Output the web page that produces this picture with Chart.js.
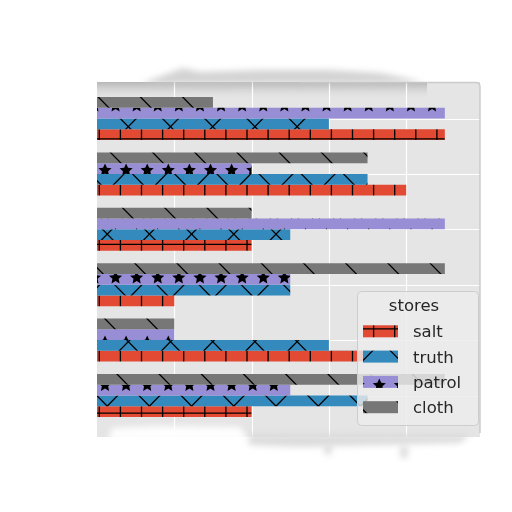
<!DOCTYPE html>
<html><head><meta charset="utf-8">
<script src="https://cdn.jsdelivr.net/npm/chart.js@4"></script>
<style>html,body{margin:0;padding:0;background:#fff}canvas{display:block}</style>
</head><body>
<canvas id="c" width="512" height="512"></canvas>
<script>
// ---- data (categories listed top to bottom) ----
const categories = ['1', '2', '3', '4', '5', '6'];
const salt   = [4.5, 4.0, 2.0, 1.0, 3.5, 2.0];
const truth  = [3.0, 3.5, 2.5, 2.5, 3.0, 3.5];
const patrol = [4.5, 2.0, 4.5, 2.5, 1.0, 2.5];
const cloth  = [1.5, 3.5, 2.0, 4.5, 1.0, 4.5];
const seriesNames = ['salt', 'truth', 'patrol', 'cloth'];
const xTicks = [1, 2, 3, 4];
const legendTitle = 'stores';

// ---- hatch patterns ----
const canvas = document.getElementById('c');
const ctx0 = canvas.getContext('2d');
const U = 21.1;       // horizontal hatch unit
const V = 21.5;       // vertical hatch unit
function makePattern(color, w, h, drawHatch) {
  const c = document.createElement('canvas');
  c.width = w; c.height = h;
  const g = c.getContext('2d');
  g.fillStyle = color; g.fillRect(0, 0, w, h);
  g.strokeStyle = '#000'; g.fillStyle = '#000'; g.lineWidth = 1.3;
  drawHatch(g, w, h);
  return ctx0.createPattern(c, 'repeat');
}
function diag(g, w, h, c, dir) {
  const P = 2 * U;
  g.beginPath();
  for (let k = -25; k < 35; k++) {
    const x0 = c + k * P;
    g.moveTo(x0, 0);
    g.lineTo(x0 + dir * w, h);
  }
  g.stroke();
}
function star(g, cx, cy, ro, ri) {
  g.beginPath();
  for (let i = 0; i < 10; i++) {
    const r = i % 2 ? ri : ro;
    const a = -Math.PI / 2 + i * Math.PI / 5;
    const x = cx + r * Math.cos(a), y = cy + r * Math.sin(a);
    i ? g.lineTo(x, y) : g.moveTo(x, y);
  }
  g.closePath(); g.fill();
}
const patterns = {
  salt: makePattern('#E24A33', 211, 211, (g, w, h) => {
    g.beginPath();
    for (let k = -1; k <= 10; k++) {
      const x = 14.9 + k * U; g.moveTo(x, 0); g.lineTo(x, h);
      const y = 12.3 + k * U; g.moveTo(0, y); g.lineTo(w, y);
    }
    g.stroke();
  }),
  truth: makePattern('#348ABD', 422, 430, (g, w, h) => {
    diag(g, w, h, 4.0, 1); diag(g, w, h, -0.6, -1);
  }),
  patrol: makePattern('#988ED5', 211, 215, (g, w, h) => {
    for (let r = -1; r <= 11; r++) {
      const y = -1.7 + r * V;
      const off = (r % 2 === 0) ? -0.5 : -0.5 + U / 2;
      for (let k = -1; k <= 11; k++) star(g, off + k * U, y, 6.9, 3.3);
    }
  }),
  cloth: makePattern('#777777', 422, 430, (g, w, h) => {
    diag(g, w, h, 3.1, 1);
  })
};

// ---- plugin: background, grid, smears, legend ----
const decor = {
  id: 'decor',
  beforeDatasetsDraw(chart) {
    const { ctx, chartArea: a, scales: { x, y } } = chart;
    const top = 82, bottom = 437;
    ctx.save();
    ctx.fillStyle = '#E5E5E5';
    ctx.fillRect(a.left, top, a.right - a.left, bottom - top);
    // top smear inside plot
    let gr = ctx.createLinearGradient(0, top, 0, top + 16);
    gr.addColorStop(0, 'rgba(180,180,180,0.95)');
    gr.addColorStop(1, 'rgba(215,215,215,0.0)');
    ctx.fillStyle = gr;
    ctx.fillRect(a.left, top, 330, 16);
    ctx.strokeStyle = '#ffffff';
    ctx.lineWidth = 1.2;
    ctx.beginPath();
    xTicks.forEach(t => { const px = Math.round(x.getPixelForValue(t)) + 0.5; ctx.moveTo(px, top); ctx.lineTo(px, bottom); });
    categories.forEach((c, i) => { const py = Math.round(y.getPixelForValue(i)) + 0.5; ctx.moveTo(a.left, py); ctx.lineTo(a.right, py); });
    ctx.stroke();
    // frame edge
    ctx.strokeStyle = 'rgba(200,200,200,0.9)';
    ctx.lineWidth = 1.5;
    ctx.beginPath();
    ctx.moveTo(300, top + 0.5); ctx.lineTo(a.right - 4, top + 0.5);
    ctx.quadraticCurveTo(a.right, top + 0.5, a.right, top + 5);
    ctx.lineTo(a.right, bottom - 4);
    ctx.stroke();
    // smear above plot
    ctx.filter = 'blur(3px)';
    ctx.fillStyle = 'rgba(200,200,200,0.8)';
    ctx.beginPath();
    ctx.moveTo(140, top + 2); ctx.lineTo(183, 68); ctx.lineTo(200, 72); ctx.lineTo(260, 70);
    ctx.lineTo(330, 70); ctx.lineTo(380, 73); ctx.lineTo(405, 78); ctx.lineTo(425, top + 1);
    ctx.closePath(); ctx.fill();
    // smear below plot
    ctx.fillStyle = 'rgba(215,215,215,0.9)';
    ctx.beginPath();
    ctx.moveTo(245, bottom - 2); ctx.lineTo(470, bottom - 2); ctx.lineTo(460, bottom + 6);
    ctx.lineTo(300, bottom + 10); ctx.lineTo(250, bottom + 8); ctx.closePath(); ctx.fill();
    ctx.beginPath(); ctx.ellipse(328, 450, 4, 5, 0, 0, Math.PI * 2); ctx.fill();
    ctx.beginPath(); ctx.ellipse(404, 452, 4, 7, 0, 0, Math.PI * 2); ctx.fill();
    // ragged white at bottom-left
    ctx.fillStyle = 'rgba(255,255,255,0.95)';
    ctx.beginPath();
    ctx.moveTo(108, bottom + 4); ctx.lineTo(112, 428); ctx.lineTo(160, 426); ctx.lineTo(240, 427);
    ctx.lineTo(250, bottom + 4); ctx.closePath(); ctx.fill();
    ctx.restore();
  },
  afterDraw(chart) {
    const ctx = chart.ctx;
    ctx.save();
    const bx = 357, by = 291, bw = 121, bh = 134;
    ctx.beginPath();
    ctx.roundRect(bx + 0.5, by + 0.5, bw, bh, 4);
    ctx.fillStyle = 'rgba(236,236,236,0.82)';
    ctx.fill();
    ctx.strokeStyle = 'rgba(205,205,205,1)';
    ctx.lineWidth = 1;
    ctx.stroke();
    ctx.font = '16.5px "DejaVu Sans"';
    ctx.fillStyle = '#262626';
    ctx.textBaseline = 'alphabetic';
    ctx.textAlign = 'center';
    ctx.fillText(legendTitle, 414, 311);
    ctx.textAlign = 'left';
    seriesNames.forEach((n, i) => {
      const base = 337.3 + i * 25.3;
      ctx.fillStyle = patterns[n];
      ctx.fillRect(363, base - 12, 35, 12);
      ctx.fillStyle = '#262626';
      ctx.fillText(n, 413, base);
    });
    ctx.restore();
  }
};

const seriesData = { salt, truth, patrol, cloth };
// drawing order inside a group: cloth on top, salt at the bottom
const drawOrder = ['cloth', 'patrol', 'truth', 'salt'];

new Chart(canvas, {
  type: 'bar',
  data: {
    labels: categories,
    datasets: drawOrder.map(n => ({
      label: n,
      data: seriesData[n],
      backgroundColor: patterns[n],
      borderWidth: 0,
      barPercentage: 1.0,
      categoryPercentage: 0.776
    }))
  },
  options: {
    indexAxis: 'y',
    responsive: false,
    animation: false,
    layout: { padding: { left: 97, right: 32, top: 90.8, bottom: 88.8 } },
    scales: {
      x: { type: 'linear', min: 0, max: 4.955, display: false },
      y: { type: 'category', display: false, offset: true }
    },
    plugins: { legend: { display: false }, tooltip: { enabled: false } }
  },
  plugins: [decor]
});
</script>
</body></html>
